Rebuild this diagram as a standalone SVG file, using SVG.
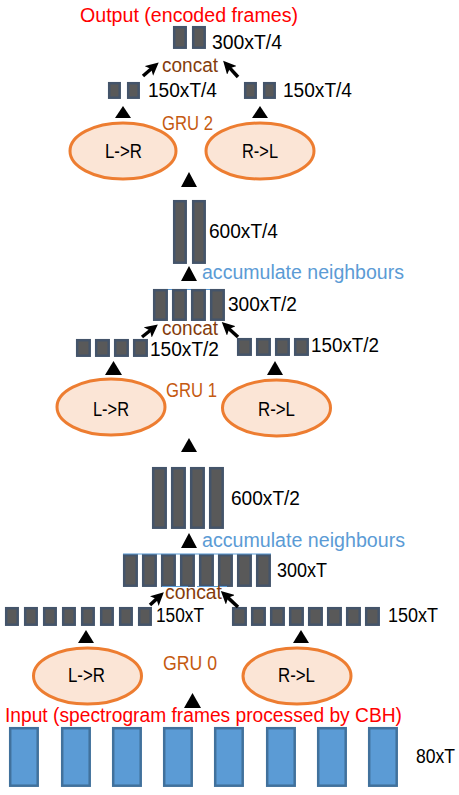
<svg xmlns="http://www.w3.org/2000/svg" width="459" height="795" viewBox="0 0 459 795">
<style>
text{font-family:"Liberation Sans",Arial,sans-serif;font-size:19.5px;}
.b{fill:#595959;stroke:#44546A;stroke-width:2.5;}
.in{fill:#5B9BD5;stroke:#41719C;stroke-width:2.5;}
.gru{fill:#FBE5D6;stroke:#ED7D31;stroke-width:3;}
.k{fill:#000000;}
.red{fill:#FF0000;}
.cc{fill:#843C0C;}
.gl{fill:#C55A11;}
.acc{fill:#5B9BD5;}
.bl{stroke:#5B9BD5;stroke-width:1;fill:none;}
.arr{stroke:#000;stroke-width:3.5;fill:none;marker-end:url(#ah);}
.tri{fill:#000;}
</style>
<defs>
<marker id="ah" markerUnits="userSpaceOnUse" markerWidth="13" markerHeight="13" refX="4" refY="6.5" orient="auto" viewBox="0 0 13 13">
<path d="M0,0 L13,6.5 L0,13 L3,6.5 z" fill="#000"/>
</marker>
</defs>

<g id="output">
<text class="red" x="80" y="22" textLength="218" lengthAdjust="spacingAndGlyphs">Output (encoded frames)</text>
<rect class="b" x="174.2" y="27.2" width="11.5" height="20.5"/>
<rect class="b" x="193.2" y="27.2" width="11.5" height="20.5"/>
<text class="k" x="212" y="49" textLength="70" lengthAdjust="spacingAndGlyphs">300xT/4</text>
</g>

<g id="concat2">
<text class="cc" x="162" y="72" textLength="56" lengthAdjust="spacingAndGlyphs">concat</text>
</g>

<g id="gru2-out">
<rect class="b" x="109.2" y="83.2" width="10.5" height="14.5"/>
<rect class="b" x="128.2" y="83.2" width="10.5" height="14.5"/>
<text class="k" x="148" y="97" textLength="69" lengthAdjust="spacingAndGlyphs">150xT/4</text>
<rect class="b" x="245.2" y="83.2" width="10.5" height="14.5"/>
<rect class="b" x="264.2" y="83.2" width="10.5" height="14.5"/>
<text class="k" x="283" y="97" textLength="69" lengthAdjust="spacingAndGlyphs">150xT/4</text>
</g>

<g id="gru2">
<text class="gl" x="162" y="130" textLength="51" lengthAdjust="spacingAndGlyphs">GRU 2</text>
<ellipse class="gru" cx="123" cy="151" rx="53" ry="28"/>
<text class="k" x="105" y="158" textLength="37" lengthAdjust="spacingAndGlyphs">L-&gt;R</text>
<ellipse class="gru" cx="260" cy="151" rx="54" ry="28"/>
<text class="k" x="242" y="158" textLength="36" lengthAdjust="spacingAndGlyphs">R-&gt;L</text>
</g>

<g id="acc2">
<rect class="b" x="174.2" y="201.2" width="11.5" height="61.5"/>
<rect class="b" x="193.2" y="201.2" width="11.5" height="61.5"/>
<text class="k" x="209" y="238" textLength="69" lengthAdjust="spacingAndGlyphs">600xT/4</text>
<text class="acc" x="202" y="279" textLength="202" lengthAdjust="spacingAndGlyphs">accumulate neighbours</text>
</g>

<g id="concat1">
<line class="bl" x1="153" y1="289.5" x2="224" y2="289.5"/>
<rect class="b" x="154.2" y="290.2" width="12.5" height="29.5"/>
<rect class="b" x="173.2" y="290.2" width="12.5" height="29.5"/>
<rect class="b" x="192.2" y="290.2" width="12.5" height="29.5"/>
<rect class="b" x="211.2" y="290.2" width="12.5" height="29.5"/>
<text class="k" x="228" y="311" textLength="69" lengthAdjust="spacingAndGlyphs">300xT/2</text>
<text class="cc" x="162" y="335" textLength="56" lengthAdjust="spacingAndGlyphs">concat</text>
</g>

<g id="gru1-out">
<rect class="b" x="77.2" y="340.2" width="12.5" height="15.5"/>
<rect class="b" x="96.2" y="340.2" width="12.5" height="15.5"/>
<rect class="b" x="115.2" y="340.2" width="12.5" height="15.5"/>
<rect class="b" x="134.2" y="340.2" width="12.5" height="15.5"/>
<text class="k" x="150" y="356" textLength="69" lengthAdjust="spacingAndGlyphs">150xT/2</text>
<rect class="b" x="238.2" y="339.2" width="12.5" height="15.5"/>
<rect class="b" x="257.2" y="339.2" width="12.5" height="15.5"/>
<rect class="b" x="276.2" y="339.2" width="12.5" height="15.5"/>
<rect class="b" x="295.2" y="339.2" width="12.5" height="15.5"/>
<text class="k" x="311" y="352" textLength="68" lengthAdjust="spacingAndGlyphs">150xT/2</text>
</g>

<g id="gru1">
<text class="gl" x="166" y="397" textLength="51" lengthAdjust="spacingAndGlyphs">GRU 1</text>
<ellipse class="gru" cx="111" cy="407" rx="54" ry="28"/>
<text class="k" x="93" y="416" textLength="36" lengthAdjust="spacingAndGlyphs">L-&gt;R</text>
<ellipse class="gru" cx="276.5" cy="408" rx="54" ry="28"/>
<text class="k" x="258" y="416" textLength="37" lengthAdjust="spacingAndGlyphs">R-&gt;L</text>
</g>

<g id="acc1">
<rect class="b" x="153.2" y="468.2" width="12.5" height="59.5"/>
<rect class="b" x="172.2" y="468.2" width="12.5" height="59.5"/>
<rect class="b" x="191.2" y="468.2" width="12.5" height="59.5"/>
<rect class="b" x="210.2" y="468.2" width="12.5" height="59.5"/>
<text class="k" x="231" y="505" textLength="69" lengthAdjust="spacingAndGlyphs">600xT/2</text>
<text class="acc" x="202" y="547" textLength="203" lengthAdjust="spacingAndGlyphs">accumulate neighbours</text>
</g>

<g id="concat0">
<rect class="b" x="124.2" y="555.2" width="12.5" height="30.5"/>
<rect class="b" x="143.2" y="555.2" width="12.5" height="30.5"/>
<rect class="b" x="162.2" y="555.2" width="12.5" height="30.5"/>
<rect class="b" x="181.2" y="555.2" width="12.5" height="30.5"/>
<rect class="b" x="200.2" y="555.2" width="12.5" height="30.5"/>
<rect class="b" x="219.2" y="555.2" width="12.5" height="30.5"/>
<rect class="b" x="238.2" y="555.2" width="12.5" height="30.5"/>
<rect class="b" x="257.2" y="555.2" width="12.5" height="30.5"/>
<line class="bl" x1="123" y1="554" x2="271" y2="554"/>
<line class="bl" x1="162" y1="586.5" x2="188" y2="586.5"/>
<line class="bl" x1="197" y1="586.5" x2="227" y2="586.5"/>
<text class="k" x="277" y="577" textLength="50" lengthAdjust="spacingAndGlyphs">300xT</text>
<text class="cc" x="165" y="599" textLength="57" lengthAdjust="spacingAndGlyphs">concat</text>
</g>

<g id="gru0-out">
<rect class="b" x="6.2" y="608.2" width="11.5" height="16.5"/>
<rect class="b" x="25.2" y="608.2" width="11.5" height="16.5"/>
<rect class="b" x="44.2" y="608.2" width="11.5" height="16.5"/>
<rect class="b" x="63.2" y="608.2" width="11.5" height="16.5"/>
<rect class="b" x="82.2" y="608.2" width="11.5" height="16.5"/>
<rect class="b" x="101.2" y="608.2" width="11.5" height="16.5"/>
<rect class="b" x="120.2" y="608.2" width="11.5" height="16.5"/>
<rect class="b" x="139.2" y="608.2" width="11.5" height="16.5"/>
<text class="k" x="156" y="622" textLength="48" lengthAdjust="spacingAndGlyphs">150xT</text>
<rect class="b" x="233.2" y="608.2" width="12.5" height="16.5"/>
<rect class="b" x="252.2" y="608.2" width="12.5" height="16.5"/>
<rect class="b" x="271.2" y="608.2" width="12.5" height="16.5"/>
<rect class="b" x="290.2" y="608.2" width="12.5" height="16.5"/>
<rect class="b" x="309.2" y="608.2" width="12.5" height="16.5"/>
<rect class="b" x="328.2" y="608.2" width="12.5" height="16.5"/>
<rect class="b" x="347.2" y="608.2" width="12.5" height="16.5"/>
<rect class="b" x="366.2" y="608.2" width="12.5" height="16.5"/>
<text class="k" x="388" y="622" textLength="50" lengthAdjust="spacingAndGlyphs">150xT</text>
</g>

<g id="gru0">
<text class="gl" x="163" y="670" textLength="54" lengthAdjust="spacingAndGlyphs">GRU 0</text>
<ellipse class="gru" cx="87.5" cy="676" rx="54" ry="28"/>
<text class="k" x="68" y="682" textLength="37" lengthAdjust="spacingAndGlyphs">L-&gt;R</text>
<ellipse class="gru" cx="297" cy="676" rx="54" ry="28"/>
<text class="k" x="278" y="682" textLength="37" lengthAdjust="spacingAndGlyphs">R-&gt;L</text>
</g>

<g id="input">
<text class="red" x="5" y="722" textLength="397" lengthAdjust="spacingAndGlyphs">Input (spectrogram frames processed by CBH)</text>
<rect class="in" x="10.2" y="728.2" width="27.5" height="57.5"/>
<rect class="in" x="62.2" y="728.2" width="27.5" height="57.5"/>
<rect class="in" x="113.2" y="728.2" width="27.5" height="57.5"/>
<rect class="in" x="164.2" y="728.2" width="27.5" height="57.5"/>
<rect class="in" x="215.2" y="728.2" width="27.5" height="57.5"/>
<rect class="in" x="267.2" y="728.2" width="27.5" height="57.5"/>
<rect class="in" x="318.2" y="728.2" width="27.5" height="57.5"/>
<rect class="in" x="369.2" y="728.2" width="27.5" height="57.5"/>
<text class="k" x="416" y="763" textLength="39" lengthAdjust="spacingAndGlyphs">80xT</text>
</g>

<g id="connectors">
<polygon class="tri" points="115,118 123,106 131,118"/>
<polygon class="tri" points="252,118 260,106 268,118"/>
<polygon class="tri" points="181,187 189,172 197,187"/>
<polygon class="tri" points="181,281 189,266 197,281"/>
<polygon class="tri" points="105,375 113.5,361 122,375"/>
<polygon class="tri" points="267,375 275,361 283,375"/>
<polygon class="tri" points="181,452 189,438 197,452"/>
<polygon class="tri" points="181,548 189,533 197,548"/>
<polygon class="tri" points="78,643 86,630 94,643"/>
<polygon class="tri" points="293,643 301,630 309,643"/>
<polygon class="tri" points="184,708 192.5,693 201,708"/>
<path class="arr" d="M143,76 L151.9,68.3"/>
<path class="arr" d="M238,77 L229.2,67.4"/>
<path class="arr" d="M142,337 L150.8,330"/>
<path class="arr" d="M238,337 L228.4,328.2"/>
<path class="arr" d="M150,605 L157.2,598.4"/>
<path class="arr" d="M238,607 L227.4,597.1"/>
</g>
</svg>
